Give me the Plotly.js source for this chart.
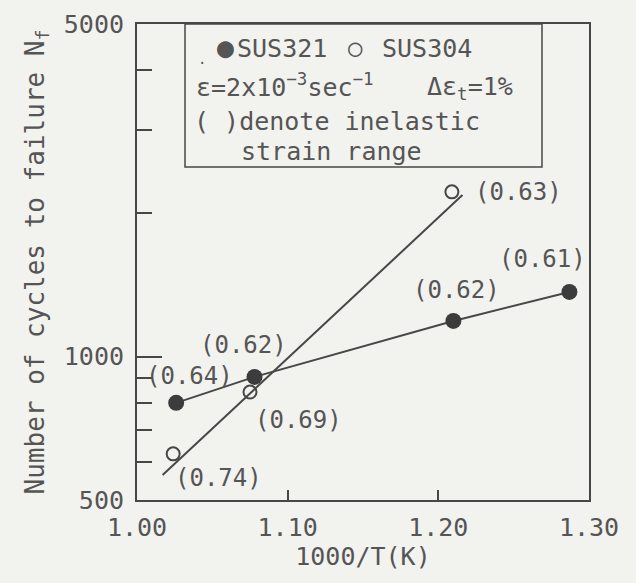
<!DOCTYPE html>
<html>
<head>
<meta charset="utf-8">
<script src="https://cdn.plot.ly/plotly-3.0.1.min.js"></script>
<style>
  html, body { margin: 0; padding: 0; background: #f2f2ee; }
  #chart { width: 636px; height: 583px; }
</style>
</head>
<body>
<div id="chart"></div>
<script>
// ---- data ----
const sus321X = [1.026, 1.078, 1.210, 1.287];
const sus321Y = [800, 907, 1189, 1368];
const sus304X = [1.024, 1.075, 1.209];
const sus304Y = [625, 843, 2220];
const fit304X = [1.017, 1.216];
const fit304Y = [564, 2186];

const strainLabels = ['(0.64)', '(0.62)', '(0.69)', '(0.74)', '(0.63)', '(0.61)', '(0.62)'];
const strainLabelX = [1.035, 1.071, 1.107, 1.054, 1.253, 1.269, 1.212];
const strainLabelY = [911, 1058, 736, 556, 2218, 1604, 1381];

const xTickVals = [1.00, 1.10, 1.20, 1.30];
const xTickText = ['1.00', '1.10', '1.20', '1.30'];
const yTickVals = [500, 1000, 5000];
const yTickText = ['500', '1000', '5000'];

// ---- style ----
const FONT = 'DejaVu Sans Mono';
const TXT = '#555555';
const LINE = '#474747';
const BG = '#f2f2ee';

const W = 636, H = 583;
const M = {l: 137, r: 47, t: 24, b: 83};
const pw = W - M.l - M.r, ph = H - M.t - M.b;
const px = v => (v - M.l) / pw;   // pixel -> paper x
const py = v => (M.t + ph - v) / ph; // pixel -> paper y

const traces = [
  {
    x: fit304X, y: fit304Y, mode: 'lines', name: 'SUS304 fit',
    line: {color: LINE, width: 2}, showlegend: false, hoverinfo: 'skip'
  },
  {
    x: sus321X, y: sus321Y, mode: 'lines+markers', name: 'SUS321',
    line: {color: LINE, width: 2},
    marker: {symbol: 'circle', size: 16, color: '#3c3c3c', line: {width: 0}},
    showlegend: false
  },
  {
    x: sus304X, y: sus304Y, mode: 'markers', name: 'SUS304',
    marker: {symbol: 'circle-open', size: 13, color: LINE, line: {width: 2, color: LINE}},
    showlegend: false
  }
];

const annotations = strainLabels.map((t, i) => ({
  x: strainLabelX[i], y: Math.log10(strainLabelY[i]), xref: 'x', yref: 'y',
  text: t, showarrow: false, xanchor: 'center', yanchor: 'middle',
  font: {family: FONT, size: 24, color: TXT}
}));

const boxText = (text, xPix, yPix, anchor, size) => ({
  x: px(xPix), y: py(yPix), xref: 'paper', yref: 'paper',
  text: text, showarrow: false, xanchor: anchor || 'left', yanchor: 'middle',
  font: {family: FONT, size: size || 25, color: TXT}
});

annotations.push(
  boxText('●', 225, 47, 'center', 28),
  boxText('SUS321', 235, 48),
  boxText('○', 355, 48, 'center', 24),
  boxText('SUS304', 380, 48),
  boxText('·', 202, 63, 'center', 14),
  boxText('ε=2x10<sup>−3</sup>sec<sup>−1</sup>', 194, 85),
  boxText('Δε<sub>t</sub>=1%', 425, 88),
  boxText('( )denote inelastic', 192, 121),
  boxText('strain range', 239, 151)
);

const layout = {
  width: W, height: H,
  margin: M,
  paper_bgcolor: BG, plot_bgcolor: BG,
  font: {family: FONT, color: TXT, size: 25},
  showlegend: false,
  xaxis: {
    range: [1.0, 1.3],
    tickvals: xTickVals, ticktext: xTickText,
    ticks: 'inside', ticklen: 10, tickwidth: 2, tickcolor: LINE,
    ticklabelstandoff: 4,
    showline: true, mirror: true, linecolor: LINE, linewidth: 2,
    showgrid: false, zeroline: false,
    tickfont: {family: FONT, size: 25, color: TXT},
    title: {text: '1000/T(K)', font: {family: FONT, size: 25, color: TXT}, standoff: 0}
  },
  yaxis: {
    type: 'log',
    range: [Math.log10(500), Math.log10(5000)],
    tickvals: yTickVals, ticktext: yTickText,
    ticks: 'inside', ticklen: 25, tickwidth: 2, tickcolor: LINE,
    ticklabelstandoff: 6,
    minor: {ticks: 'inside', ticklen: 15, tickwidth: 2, tickcolor: LINE, dtick: 'D1', showgrid: false},
    showline: true, mirror: true, linecolor: LINE, linewidth: 2,
    showgrid: false, zeroline: false,
    tickfont: {family: FONT, size: 25, color: TXT},
    title: {text: 'Number of cycles to failure N<sub>f</sub>', font: {family: FONT, size: 26, color: TXT}, standoff: 12}
  },
  shapes: [{
    type: 'rect', xref: 'paper', yref: 'paper',
    x0: px(185), x1: px(542), y0: py(167), y1: 1,
    line: {color: LINE, width: 1.5}, fillcolor: 'rgba(0,0,0,0)'
  }],
  annotations: annotations
};

Plotly.newPlot('chart', traces, layout, {staticPlot: true, displayModeBar: false});
</script>
</body>
</html>
